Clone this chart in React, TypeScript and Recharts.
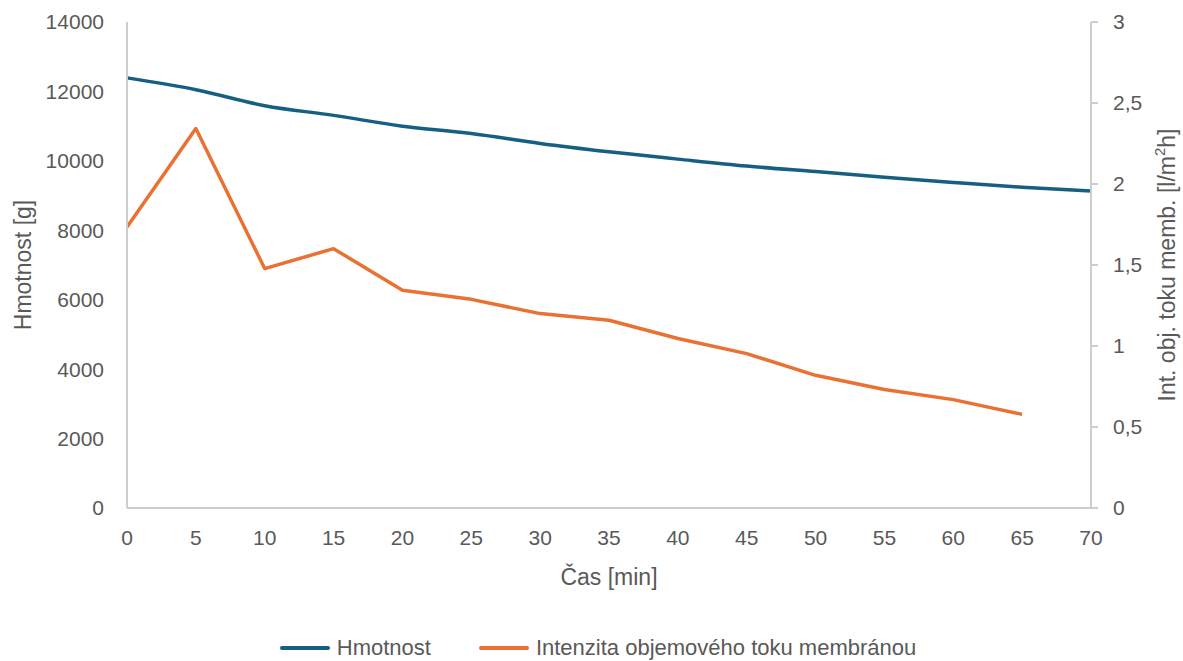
import React from 'react';
import { LineChart, Line, XAxis, YAxis, Legend, Label } from 'recharts';

// Time points [min]
const minutes = [0, 5, 10, 15, 20, 25, 30, 35, 40, 45, 50, 55, 60, 65, 70];
// Mass of the retentate [g]
const hmotnost = [12390, 12050, 11590, 11310, 11000, 10790, 10500, 10260, 10050, 9850, 9690, 9530, 9380, 9240, 9130];
// Volumetric flux through the membrane [l/m²h]; no reading at 70 min
const intenzita: (number | null)[] = [1.735, 2.342, 1.478, 1.601, 1.344, 1.288, 1.2, 1.159, 1.046, 0.953, 0.819, 0.731, 0.669, 0.578, null];

const timeTicks = [0, 5, 10, 15, 20, 25, 30, 35, 40, 45, 50, 55, 60, 65, 70];
const massTicks = [0, 2000, 4000, 6000, 8000, 10000, 12000, 14000];
const fluxTicks = [0, 0.5, 1, 1.5, 2, 2.5, 3];

const seriesNames = { hmotnost: 'Hmotnost', intenzita: 'Intenzita objemového toku membránou' };

const data = minutes.map((t, i) => ({ t, hmotnost: hmotnost[i], intenzita: intenzita[i] }));

const FONT = '"Liberation Sans", Arial, sans-serif';
const TEXT = '#595959';
const AXIS = '#cdcdcd';
const BLUE = '#156082';
const ORANGE = '#E97132';

const fmtComma = (v: number) => String(v).replace('.', ',');

const LeftTitle = ({ viewBox }: any) => {
  const cx = viewBox.x + 23;
  const cy = viewBox.y + viewBox.height / 2;
  return (
    <text x={cx} y={cy} transform={`rotate(-90 ${cx} ${cy})`} textAnchor="middle" dominantBaseline="central"
      fill={TEXT} fontFamily={FONT} fontSize={23}>
      Hmotnost [g]
    </text>
  );
};

const RightTitle = ({ viewBox }: any) => {
  const cx = viewBox.x + 76;
  const cy = viewBox.y + viewBox.height / 2;
  return (
    <text x={cx} y={cy} transform={`rotate(-90 ${cx} ${cy})`} textAnchor="middle" dominantBaseline="central"
      fill={TEXT} fontFamily={FONT} fontSize={23}>
      Int. obj. toku memb. [l/m
      <tspan fontSize={15} dy={-8}>2</tspan>
      <tspan dy={8}>h]</tspan>
    </text>
  );
};

const BottomTitle = ({ viewBox }: any) => {
  const cx = viewBox.x + viewBox.width / 2;
  return (
    <text x={cx} y={viewBox.y + 77} textAnchor="middle" fill={TEXT} fontFamily={FONT} fontSize={23}>
      Čas [min]
    </text>
  );
};

const LegendContent = () => (
  <div style={{ display: 'flex', justifyContent: 'center', alignItems: 'center', height: 26, paddingLeft: 13,
    fontFamily: FONT, fontSize: 22, color: TEXT }}>
    <span style={{ display: 'inline-block', width: 50, height: 4, borderRadius: 2, background: BLUE, marginRight: 7 }} />
    <span style={{ marginRight: 48 }}>{seriesNames.hmotnost}</span>
    <span style={{ display: 'inline-block', width: 50, height: 4, borderRadius: 2, background: ORANGE, marginRight: 7 }} />
    <span>{seriesNames.intenzita}</span>
  </div>
);

export default function App() {
  const tick = { fill: TEXT, fontFamily: FONT, fontSize: 21 };
  return (
    <div style={{ position: 'absolute', left: 0, top: 0, background: '#fff' }}>
      <LineChart width={1183} height={661} data={data} margin={{ top: 22, right: 0, bottom: 0, left: 0 }}>
        <XAxis dataKey="t" type="number" domain={[0, 70]} ticks={timeTicks} interval={0}
          tickLine={false} tickSize={0} tickMargin={22} height={127}
          axisLine={{ stroke: AXIS, strokeWidth: 2 }} tick={tick}>
          <Label content={<BottomTitle />} />
        </XAxis>
        <YAxis yAxisId="left" orientation="left" domain={[0, 14000]} ticks={massTicks} interval={0}
          width={127} tickLine={false} tickSize={0} tickMargin={23}
          axisLine={{ stroke: AXIS, strokeWidth: 2 }} tick={tick}>
          <Label content={<LeftTitle />} />
        </YAxis>
        <YAxis yAxisId="right" orientation="right" domain={[0, 3]} ticks={fluxTicks} interval={0}
          width={92} tickSize={7} tickMargin={15} tickFormatter={fmtComma}
          tickLine={{ stroke: AXIS, strokeWidth: 2 }}
          axisLine={{ stroke: AXIS, strokeWidth: 2 }} tick={tick}>
          <Label content={<RightTitle />} />
        </YAxis>
        <Legend verticalAlign="bottom" content={<LegendContent />} />
        <Line yAxisId="left" type="monotone" dataKey="hmotnost" name={seriesNames.hmotnost} stroke={BLUE}
          strokeWidth={3.5} dot={false} isAnimationActive={false} />
        <Line yAxisId="right" type="linear" dataKey="intenzita" name={seriesNames.intenzita} stroke={ORANGE}
          strokeWidth={3.5} dot={false} isAnimationActive={false} strokeLinejoin="round" />
      </LineChart>
    </div>
  );
}
